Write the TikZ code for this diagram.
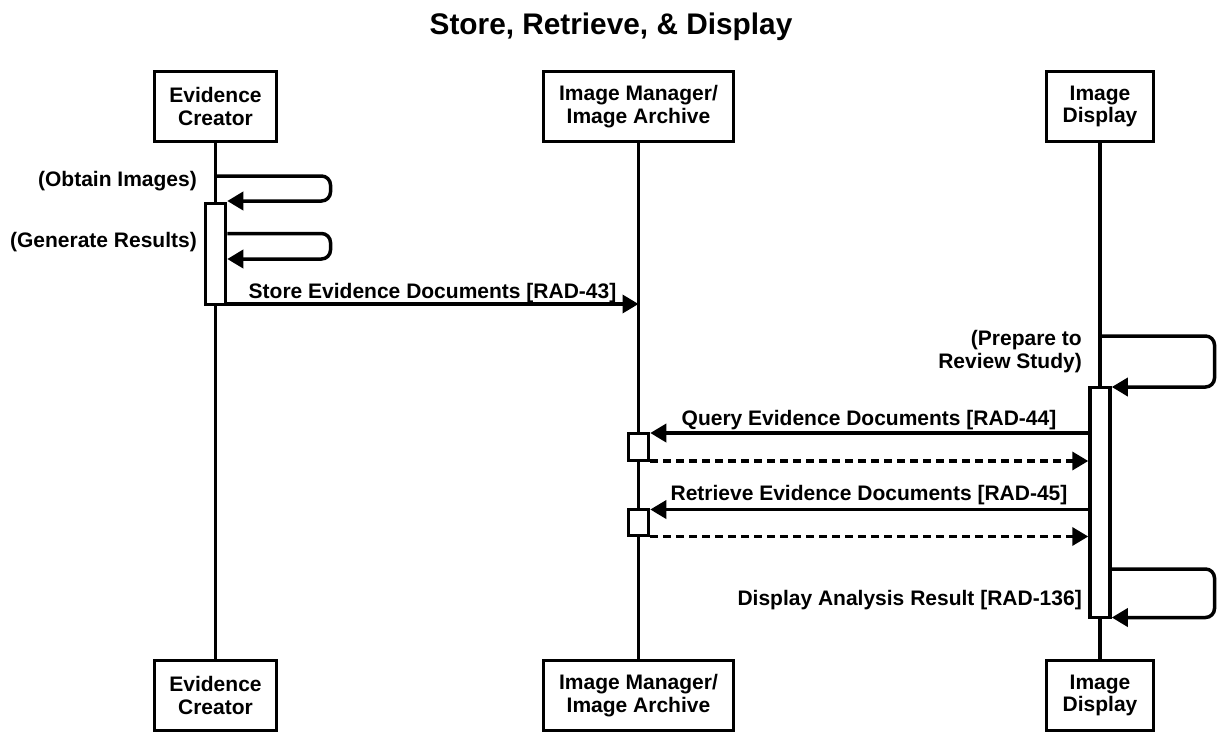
\documentclass[tikz,border=0pt]{standalone}
\usepackage{fontspec}
\setmainfont{Liberation Sans}
\usetikzlibrary{arrows.meta}
\begin{document}
\begin{tikzpicture}[x=1pt,y=-1pt,
  every node/.style={font=\bfseries\fontsize{21}{22.5}\selectfont, inner sep=0pt},
  actor/.style={draw, line width=3.5pt, fill=white, align=center, minimum height=70pt},
  lifeline/.style={line width=3.5pt},
  actbar/.style={draw, line width=3.5pt, fill=white, minimum width=20pt, inner sep=0pt},
  msg/.style={line width=3.5pt, -{Triangle[length=16pt,width=18pt]}},
  selfmsg/.style={msg, rounded corners=9pt},
  retmsg/.style={msg, dash pattern=on 8pt off 5pt},
  lbl/.style={anchor=base},
  lblr/.style={anchor=base east, align=right}
]
\useasboundingbox (0,0) rectangle (1217,733);

% title
\node[font=\bfseries\fontsize{29.8}{31}\selectfont, anchor=base] (title) at (611,35) {Store, Retrieve, \& Display};

% actor boxes
\node[actor, minimum width=122pt] (ECt) at (215.5,106.5) {Evidence\\Creator};
\node[actor, minimum width=190pt] (IMt) at (638.5,106.5) {Image Manager/\\Image Archive};
\node[actor, minimum width=107pt] (IDt) at (1100,106.5) {Image\\Display};
\node[actor, minimum width=122pt] (ECb) at (215.5,695.5) {Evidence\\Creator};
\node[actor, minimum width=190pt] (IMb) at (638.5,695.5) {Image Manager/\\Image Archive};
\node[actor, minimum width=107pt] (IDb) at (1100,695.5) {Image\\Display};

% lifelines
\draw[lifeline] (ECt.south) -- (ECb.north);
\draw[lifeline] (IMt.south) -- (IMb.north);
\draw[lifeline] (IDt.south) -- (IDb.north);

% activation bars
\node[actbar, minimum height=101pt] (ECbar) at (215.5,254) {};
\node[actbar, minimum height=230pt] (IDbar) at (1100,502.5) {};
\node[actbar, minimum height=27pt] (IMbarA) at (638.5,447) {};
\node[actbar, minimum height=26pt] (IMbarB) at (638.5,522.5) {};

% level coordinates
\coordinate (y1) at (0,176);
\coordinate (y2) at (0,201);
\coordinate (y3) at (0,233.5);
\coordinate (y4) at (0,259);
\coordinate (y5) at (0,304);
\coordinate (y6) at (0,336);
\coordinate (y7) at (0,387);
\coordinate (y8) at (0,433);
\coordinate (y9) at (0,461);
\coordinate (y10) at (0,509.5);
\coordinate (y11) at (0,536.5);
\coordinate (y12) at (0,569);
\coordinate (y13) at (0,617.5);
\coordinate (xr1) at (330.5,0);
\coordinate (xr2) at (1214.5,0);

% self messages of Evidence Creator
\draw[selfmsg] (ECt.south |- y1) -- (xr1 |- y1) -- (xr1 |- y2) -- (ECbar.east |- y2);
\draw[selfmsg] (ECbar.east |- y3) -- (xr1 |- y3) -- (xr1 |- y4) -- (ECbar.east |- y4);
\node[lblr] (lObt) at (197,186) {(Obtain Images)};
\node[lblr] (lGen) at (197,247) {(Generate Results)};

% store
\draw[msg] (ECbar.east |- y5) -- (IMt.south |- y5);
\node[lbl] (lStore) at (432.5,298) {Store Evidence Documents [RAD-43]};

% prepare
\draw[selfmsg] (IDt.south |- y6) -- (xr2 |- y6) -- (xr2 |- y7) -- (IDbar.east |- y7);
\node[lblr] (lPrep) at (1082,368) {(Prepare to\\Review Study)};

% query / retrieve
\draw[msg] (IDbar.west |- y8) -- (IMbarA.east |- y8);
\draw[retmsg] (IMbarA.east |- y9) -- (IDbar.west |- y9);
\node[lbl] (lQuery) at (869,425) {Query Evidence Documents [RAD-44]};
\draw[msg] (IDbar.west |- y10) -- (IMbarB.east |- y10);
\draw[retmsg] (IMbarB.east |- y11) -- (IDbar.west |- y11);
\node[lbl] (lRetr) at (869,500) {Retrieve Evidence Documents [RAD-45]};

% display
\draw[selfmsg] (IDbar.east |- y12) -- (xr2 |- y12) -- (xr2 |- y13) -- (IDbar.east |- y13);
\node[lblr] (lDisp) at (1082,605) {Display Analysis Result [RAD-136]};
\end{tikzpicture}
\end{document}
